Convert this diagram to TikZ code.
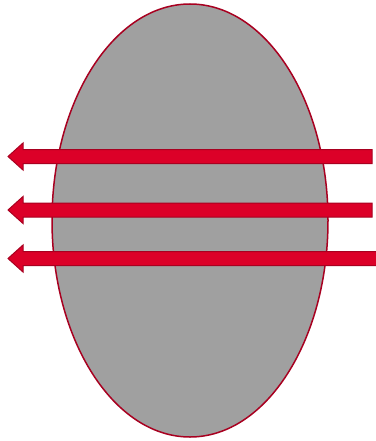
\documentclass[tikz,border=0pt]{standalone}
\usepackage{tikz}
\definecolor{egray}{RGB}{160,160,160}
\definecolor{rred}{RGB}{220,0,40}
\definecolor{dred}{RGB}{168,0,32}
\tikzset{
  blob/.style={draw=dred, fill=egray, line width=1.5pt},
  flowarrow/.style={draw=dred, fill=rred, line width=1pt, line join=miter}
}
\begin{document}
\begin{tikzpicture}[x=1pt,y=-1pt]
  \useasboundingbox (0,0) rectangle (375,441);
  \draw[blob] (190,220.5) ellipse [x radius=138, y radius=216.5];
  % three arrows pointing left
  \foreach \yy/\xe in {156.5/372, 210/372, 258.5/377}
    \draw[flowarrow] (\xe,\yy-7) -- (23,\yy-7) -- (23,\yy-13.5) -- (8,\yy)
      -- (23,\yy+13.5) -- (23,\yy+7) -- (\xe,\yy+7) -- cycle;
\end{tikzpicture}
\end{document}
